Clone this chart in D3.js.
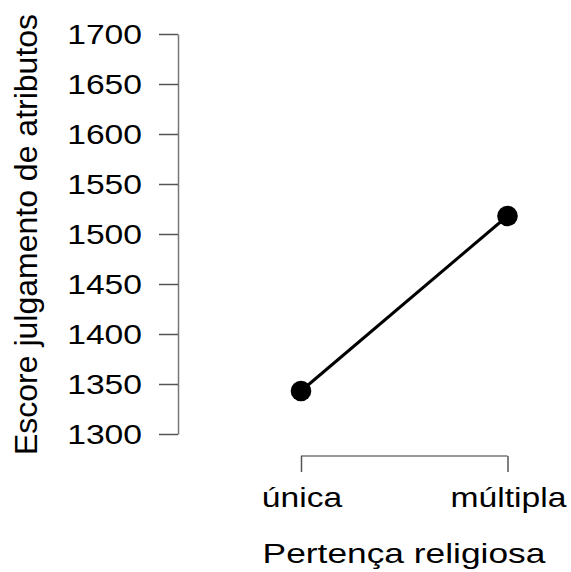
<!DOCTYPE html>
<html><head><meta charset="utf-8">
<script src="https://cdn.jsdelivr.net/npm/d3@7"></script>
<style>body{margin:0;background:#fff}svg{display:block}text{font-family:"Liberation Sans",Arial,sans-serif}</style>
</head><body>
<svg id="c" width="571" height="572"></svg>
<script>
const categories = ["única", "múltipla"];
const values = [1343, 1518];
const yTicks = [1300, 1350, 1400, 1450, 1500, 1550, 1600, 1650, 1700];

const svg = d3.select("#c");
const x = d3.scalePoint().domain(categories).range([301, 507.5]);
const y = d3.scaleLinear().domain([1300, 1700]).range([434, 34]);
const SX = 1.18, FS = 28.5;

// Y axis
const ya = svg.append("g").attr("transform", "translate(178,0)")
  .call(d3.axisLeft(y).tickValues(yTicks).tickSize(19).tickFormat(d3.format("d")).tickSizeOuter(0));
ya.attr("font-family", null).attr("font-size", null);
ya.select(".domain").attr("stroke", "#777").attr("stroke-width", 1.5);
ya.selectAll(".tick line").attr("stroke", "#555").attr("stroke-width", 1.5);
ya.selectAll(".tick text").attr("font-size", FS).attr("fill", "#000")
  .attr("x", 0).attr("dy", "0.35em").attr("transform", `translate(-36,0) scale(${SX},1)`);

// X axis
const xa = svg.append("g").attr("transform", "translate(0,456)")
  .call(d3.axisBottom(x).tickSize(16).tickSizeOuter(0));
xa.attr("font-family", null).attr("font-size", null);
xa.select(".domain").attr("stroke", "#777").attr("stroke-width", 1.5)
  .attr("d", `M${x(categories[0])},0H${x(categories[1])}`);
xa.selectAll(".tick line").attr("stroke", "#555").attr("stroke-width", 1.5);
xa.selectAll(".tick text").attr("font-size", FS).attr("fill", "#000")
  .attr("y", 0).attr("dy", 0).attr("transform", `translate(0.5,51) scale(${SX},1)`);

const data = categories.map((c, i) => ({c, v: values[i]}));
svg.append("path").datum(data)
  .attr("d", d3.line().x(d => x(d.c)).y(d => y(d.v)))
  .attr("stroke", "#000").attr("stroke-width", 3).attr("fill", "none");
svg.selectAll("circle.pt").data(data).join("circle")
  .attr("cx", d => x(d.c)).attr("cy", d => y(d.v)).attr("r", 10.3).attr("fill", "#000");

svg.append("text").attr("transform", `translate(404,563) scale(1.24,1)`).attr("text-anchor", "middle")
  .attr("font-size", FS).text("Pertença religiosa");
svg.append("text").attr("transform", "translate(37,234.5) rotate(-90)").attr("text-anchor", "middle")
  .attr("font-size", 32).text("Escore julgamento de atributos");
</script>
</body></html>
